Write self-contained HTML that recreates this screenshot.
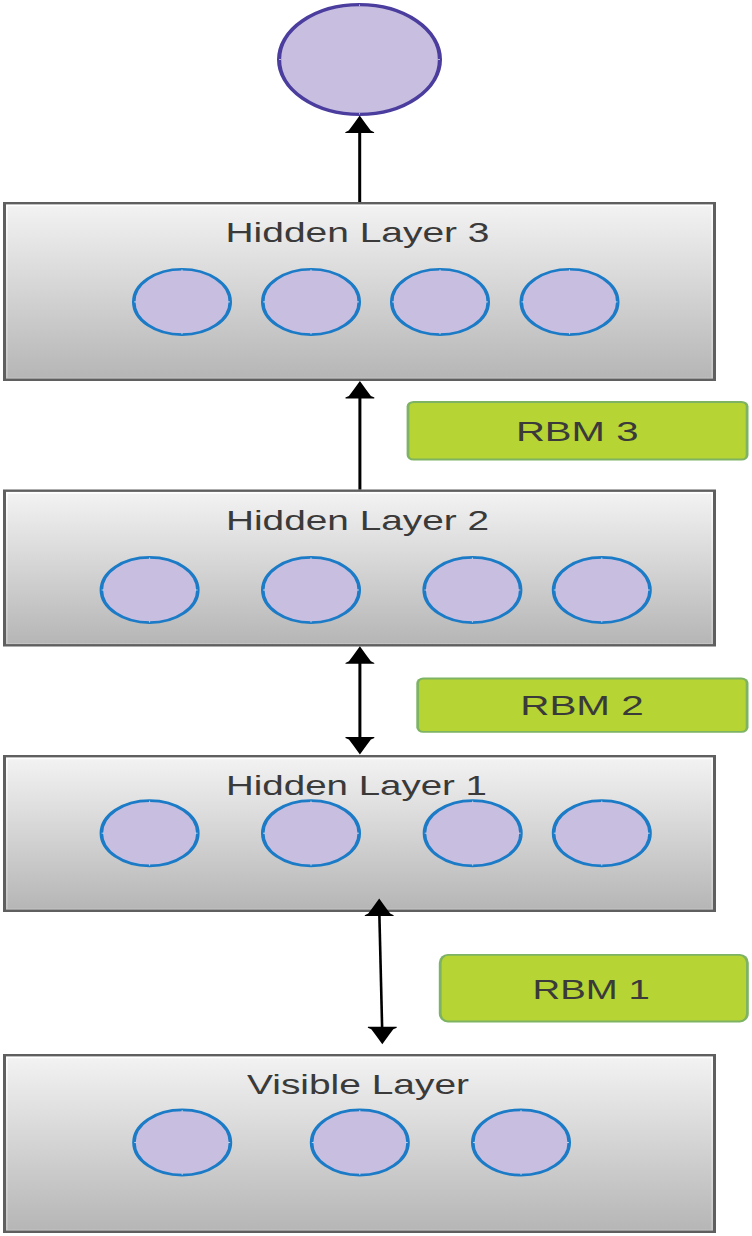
<!DOCTYPE html>
<html><head><meta charset="utf-8"><style>
html,body{margin:0;padding:0;background:#fff;}
body{width:752px;height:1236px;overflow:hidden;font-family:"Liberation Sans",sans-serif;}
svg{display:block;}
</style></head><body>
<svg width="752" height="1236" viewBox="0 0 752 1236">
<defs>
<linearGradient id="g" x1="0" y1="0" x2="0" y2="1">
<stop offset="0" stop-color="#f2f2f2"/><stop offset="1" stop-color="#b6b6b6"/>
</linearGradient>
<linearGradient id="hl" x1="0" y1="0" x2="0" y2="1">
<stop offset="0" stop-color="#ffffff"/><stop offset="1" stop-color="#c6c6c6"/>
</linearGradient>
</defs>
<rect width="752" height="1236" fill="#fff"/>
<rect x="3" y="202" width="713" height="179" fill="#5f5f5f"/>
<rect x="6.0" y="204.4" width="707.0" height="174.2" fill="url(#hl)"/>
<rect x="7.7" y="206.20000000000002" width="703.6" height="171.39999999999998" fill="url(#g)"/>
<rect x="3" y="489.5" width="713" height="157.0" fill="#5f5f5f"/>
<rect x="6.0" y="491.9" width="707.0" height="152.2" fill="url(#hl)"/>
<rect x="7.7" y="493.7" width="703.6" height="149.39999999999998" fill="url(#g)"/>
<rect x="3" y="755" width="713" height="157" fill="#5f5f5f"/>
<rect x="6.0" y="757.4" width="707.0" height="152.2" fill="url(#hl)"/>
<rect x="7.7" y="759.1999999999999" width="703.6" height="149.39999999999998" fill="url(#g)"/>
<rect x="3" y="1054" width="713" height="179" fill="#5f5f5f"/>
<rect x="6.0" y="1056.4" width="707.0" height="174.2" fill="url(#hl)"/>
<rect x="7.7" y="1058.2" width="703.6" height="171.39999999999998" fill="url(#g)"/>
<ellipse transform="translate(182 301.9) scale(1.3 1)" rx="37.112" ry="32.65" fill="#c8bfe0" stroke="#1b7bc6" stroke-width="2.7"/>
<ellipse transform="translate(311 301.9) scale(1.3 1)" rx="37.112" ry="32.65" fill="#c8bfe0" stroke="#1b7bc6" stroke-width="2.7"/>
<ellipse transform="translate(440 301.9) scale(1.3 1)" rx="37.112" ry="32.65" fill="#c8bfe0" stroke="#1b7bc6" stroke-width="2.7"/>
<ellipse transform="translate(569.5 301.9) scale(1.3 1)" rx="37.112" ry="32.65" fill="#c8bfe0" stroke="#1b7bc6" stroke-width="2.7"/>
<ellipse transform="translate(149.6 590) scale(1.3 1)" rx="37.112" ry="32.65" fill="#c8bfe0" stroke="#1b7bc6" stroke-width="2.7"/>
<ellipse transform="translate(311 590) scale(1.3 1)" rx="37.112" ry="32.65" fill="#c8bfe0" stroke="#1b7bc6" stroke-width="2.7"/>
<ellipse transform="translate(472.4 590) scale(1.3 1)" rx="37.112" ry="32.65" fill="#c8bfe0" stroke="#1b7bc6" stroke-width="2.7"/>
<ellipse transform="translate(601.8 590) scale(1.3 1)" rx="37.112" ry="32.65" fill="#c8bfe0" stroke="#1b7bc6" stroke-width="2.7"/>
<ellipse transform="translate(149.6 833.2) scale(1.3 1)" rx="37.112" ry="32.65" fill="#c8bfe0" stroke="#1b7bc6" stroke-width="2.7"/>
<ellipse transform="translate(311 833.2) scale(1.3 1)" rx="37.112" ry="32.65" fill="#c8bfe0" stroke="#1b7bc6" stroke-width="2.7"/>
<ellipse transform="translate(472.7 833.2) scale(1.3 1)" rx="37.112" ry="32.65" fill="#c8bfe0" stroke="#1b7bc6" stroke-width="2.7"/>
<ellipse transform="translate(601.8 833.2) scale(1.3 1)" rx="37.112" ry="32.65" fill="#c8bfe0" stroke="#1b7bc6" stroke-width="2.7"/>
<ellipse transform="translate(182.2 1142.5) scale(1.3 1)" rx="37.112" ry="32.65" fill="#c8bfe0" stroke="#1b7bc6" stroke-width="2.7"/>
<ellipse transform="translate(359.8 1142.5) scale(1.3 1)" rx="37.112" ry="32.65" fill="#c8bfe0" stroke="#1b7bc6" stroke-width="2.7"/>
<ellipse transform="translate(521 1142.5) scale(1.3 1)" rx="37.112" ry="32.65" fill="#c8bfe0" stroke="#1b7bc6" stroke-width="2.7"/>
<ellipse transform="translate(359.5 59.5) scale(1.3 1)" rx="61.862" ry="54.9" fill="#c8bfe0" stroke="#4b3d9e" stroke-width="3.2"/>
<path d="M279.00,59.50h2 M438.00,59.50h2 M359.50,4.50v1.5 M359.50,113.00v1.5 M134.00,301.90h2 M228.00,301.90h2 M182.00,269.40v1.5 M182.00,332.90v1.5 M263.00,301.90h2 M357.00,301.90h2 M311.00,269.40v1.5 M311.00,332.90v1.5 M392.00,301.90h2 M486.00,301.90h2 M440.00,269.40v1.5 M440.00,332.90v1.5 M521.50,301.90h2 M615.50,301.90h2 M569.50,269.40v1.5 M569.50,332.90v1.5 M101.60,590.00h2 M195.60,590.00h2 M149.60,557.50v1.5 M149.60,621.00v1.5 M263.00,590.00h2 M357.00,590.00h2 M311.00,557.50v1.5 M311.00,621.00v1.5 M424.40,590.00h2 M518.40,590.00h2 M472.40,557.50v1.5 M472.40,621.00v1.5 M553.80,590.00h2 M647.80,590.00h2 M601.80,557.50v1.5 M601.80,621.00v1.5 M101.60,833.20h2 M195.60,833.20h2 M149.60,800.70v1.5 M149.60,864.20v1.5 M263.00,833.20h2 M357.00,833.20h2 M311.00,800.70v1.5 M311.00,864.20v1.5 M424.70,833.20h2 M518.70,833.20h2 M472.70,800.70v1.5 M472.70,864.20v1.5 M553.80,833.20h2 M647.80,833.20h2 M601.80,800.70v1.5 M601.80,864.20v1.5 M134.20,1142.50h2 M228.20,1142.50h2 M182.20,1110.00v1.5 M182.20,1173.50v1.5 M311.80,1142.50h2 M405.80,1142.50h2 M359.80,1110.00v1.5 M359.80,1173.50v1.5 M473.00,1142.50h2 M567.00,1142.50h2 M521.00,1110.00v1.5 M521.00,1173.50v1.5" stroke="#fff" stroke-width="0.8" opacity="0.75"/>
<rect x="406.6" y="401" width="341.9" height="59.5" rx="7" ry="5.5" fill="#7db363"/>
<rect x="409.40000000000003" y="402.9" width="336.29999999999995" height="55.7" rx="4.5" ry="3.7" fill="#b6d433"/>
<rect x="416.3" y="677.6" width="332.2" height="55.19999999999993" rx="7" ry="5.5" fill="#7db363"/>
<rect x="419.1" y="679.5" width="326.59999999999997" height="51.399999999999935" rx="4.5" ry="3.7" fill="#b6d433"/>
<rect x="438.8" y="953.9" width="309.99999999999994" height="68.5" rx="9" ry="9" fill="#7db363"/>
<rect x="441.6" y="955.8" width="304.3999999999999" height="64.7" rx="6.5" ry="7.2" fill="#b6d433"/>
<g fill="#000" stroke="none">
<path d="M359.70,115.60 L366.20,124.60 L370.70,130.60 L374.20,132.20 L374.00,133.10 L345.40,133.10 L345.20,132.20 L348.70,130.60 L353.20,124.60 Z"/>
<path d="M359.90,381.00 L366.40,390.00 L370.90,396.00 L374.40,397.60 L374.20,398.50 L345.60,398.50 L345.40,397.60 L348.90,396.00 L353.40,390.00 Z"/>
<path d="M359.90,646.30 L366.40,655.30 L370.90,661.30 L374.40,662.90 L374.20,663.80 L345.60,663.80 L345.40,662.90 L348.90,661.30 L353.40,655.30 Z"/>
<path d="M359.90,754.60 L366.40,745.60 L370.90,739.60 L374.40,738.00 L374.20,737.10 L345.60,737.10 L345.40,738.00 L348.90,739.60 L353.40,745.60 Z"/>
<path d="M379.20,898.60 L385.70,907.60 L390.20,913.60 L393.70,915.20 L393.50,916.10 L364.90,916.10 L364.70,915.20 L368.20,913.60 L372.70,907.60 Z"/>
<path d="M382.30,1044.30 L388.80,1035.30 L393.30,1029.30 L396.80,1027.70 L396.60,1026.80 L368.00,1026.80 L367.80,1027.70 L371.30,1029.30 L375.80,1035.30 Z"/>
</g>
<g stroke="#000" stroke-width="3" fill="none">
<line x1="359.7" y1="128" x2="359.7" y2="202"/>
<line x1="359.9" y1="394" x2="359.9" y2="489.5"/>
<line x1="359.9" y1="660" x2="359.9" y2="741"/>
<line x1="379.3" y1="912" x2="382.2" y2="1031" stroke-width="2.6"/>
</g>
<g font-family="Liberation Sans, sans-serif" font-size="28" fill="#3a3a3a">
<text id="t0" x="225.50" y="241.5" textLength="264.00" lengthAdjust="spacingAndGlyphs">Hidden Layer 3</text>
<text id="t1" x="226.00" y="529.5" textLength="263.00" lengthAdjust="spacingAndGlyphs">Hidden Layer 2</text>
<text id="t2" x="226.00" y="794.8" textLength="261.00" lengthAdjust="spacingAndGlyphs">Hidden Layer 1</text>
<text id="t3" x="247.00" y="1093.6" textLength="222.00" lengthAdjust="spacingAndGlyphs">Visible Layer</text>
<text id="t4" x="515.90" y="440.7" textLength="122.60" lengthAdjust="spacingAndGlyphs">RBM 3</text>
<text id="t5" x="520.20" y="714.8" textLength="123.60" lengthAdjust="spacingAndGlyphs">RBM 2</text>
<text id="t6" x="532.60" y="998.5" textLength="117.20" lengthAdjust="spacingAndGlyphs">RBM 1</text>
</g>
</svg>
</body></html>
